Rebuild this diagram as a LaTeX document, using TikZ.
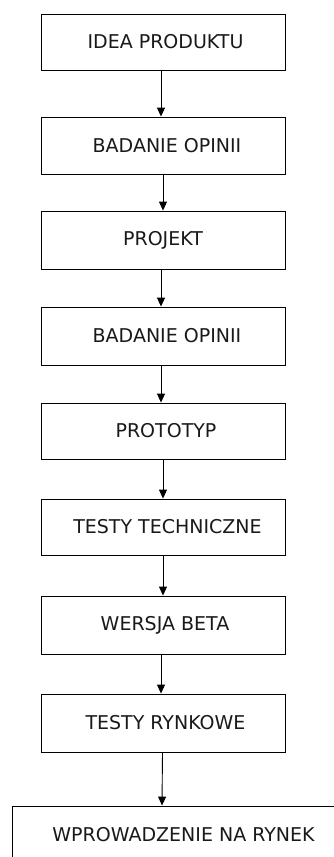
\documentclass[tikz,border=0pt]{standalone}
\usepackage{fontspec}
\setmainfont{DejaVu Sans}
\usetikzlibrary{arrows.meta}
\tikzset{
  stepbox/.style={draw=black, line width=0.9pt, minimum width=244pt, inner sep=0pt,
    font=\fontsize{19}{22}\selectfont, text=black!90},
  flow/.style={draw=black, line width=0.9pt, -{Triangle[width=8pt,length=9pt]}}
}
\begin{document}
\begin{tikzpicture}[x=1pt,y=-1pt]
\useasboundingbox (0,0) rectangle (334,857);
\node[stepbox, minimum height=56pt] (n1) at (163,42) {\hspace*{5pt}IDEA PRODUKTU};
\node[stepbox, minimum height=57pt] (n2) at (163,145.5) {\hspace*{8pt}BADANIE OPINII};
\node[stepbox, minimum height=58pt] (n3) at (163,240) {PROJEKT};
\node[stepbox, minimum height=58pt] (n4) at (163,336) {\hspace*{8pt}BADANIE OPINII};
\node[stepbox, minimum height=56pt] (n5) at (163,431) {\hspace*{6pt}PROTOTYP};
\node[stepbox, minimum height=56pt] (n6) at (163,527) {\hspace*{9pt}TESTY TECHNICZNE};
\node[stepbox, minimum height=58pt] (n7) at (163,625) {\hspace*{4pt}WERSJA BETA};
\node[stepbox, minimum height=58pt] (n8) at (163,723) {\hspace*{5pt}TESTY RYNKOWE};
\node[stepbox, minimum width=343pt, minimum height=57pt] (n9) at (183.5,834.5) {WPROWADZENIE NA RYNEK};
\draw[flow] ([xshift=-2pt]n1.south) -- ([xshift=-2pt]n2.north);
\draw[flow] (n2.south) -- (n3.north);
\draw[flow] ([xshift=-2pt]n3.south) -- ([xshift=-2pt]n4.north);
\draw[flow] ([xshift=-2pt]n4.south) -- ([xshift=-2pt]n5.north);
\draw[flow] (n5.south) -- (n6.north);
\draw[flow] (n6.south) -- (n7.north);
\draw[flow] ([xshift=-2pt]n7.south) -- ([xshift=-2pt]n8.north);
\draw[flow] ([xshift=-0.5pt]n8.south) -- ([xshift=-21.5pt]n9.north);
\end{tikzpicture}
\end{document}
